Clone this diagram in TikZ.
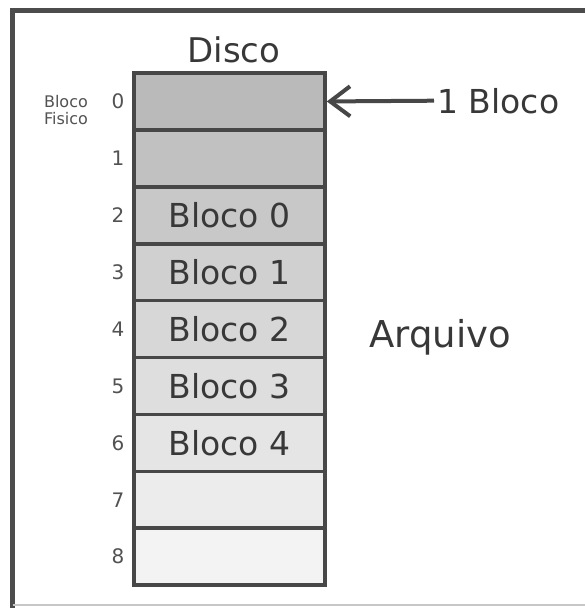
\documentclass[tikz,border=0pt]{standalone}
\usepackage{fontspec}
\setmainfont{DejaVu Sans}
\usetikzlibrary{arrows.meta,positioning}

\begin{document}
\begin{tikzpicture}[x=1pt,y=-1pt,
    cell/.style={draw=black!72,line width=3.6pt,minimum width=191pt,minimum height=56.9pt,
      inner sep=0pt,text=black!78,font=\fontsize{33}{33}\selectfont},
    idx/.style={text=black!68,inner sep=0pt,font=\fontsize{20}{20}\selectfont}]
    \useasboundingbox (0,0) rectangle (585,608);
    % frame of the scan
    \draw[black!70,line width=4.5pt] (12.5,608) -- (12.5,10.5) -- (585,10.5);
    \draw[black!22,line width=2pt] (12.5,605) -- (585,605);
    % disk blocks
    \foreach \i/\t in {0/,1/,2/Bloco 0,3/Bloco 1,4/Bloco 2,5/Bloco 3,6/Bloco 4,7/,8/}{
        \pgfmathsetmacro{\g}{27-2.8*\i}
        \node[cell,fill=black!\g] (c\i) at (229.5,{73+56.9*(\i+0.5)}) {\t};
        \node[idx] (n\i) at (118,{73+56.9*(\i+0.5)}) {\i};
    }
    \node[text=black!78,font=\fontsize{34}{34}\selectfont] (disco) at (234,50) {Disco};
    \node[text=black!68,align=left,inner sep=0pt,font=\fontsize{16}{17}\selectfont] (fisico) at (66,110) {Bloco\\Fisico};
    \node[anchor=base west,text=black!78,font=\fontsize{33}{33}\selectfont] (umbloco) at (434,113) {1 Bloco};
    \node[anchor=base west,text=black!78,font=\fontsize{37}{37}\selectfont] (arquivo) at (366,347) {Arquivo};
    \draw[black!72,line width=4pt,-{Straight Barb[length=20pt,width=30pt]}] (umbloco.west) -- (c0.east);
\end{tikzpicture}
\end{document}
